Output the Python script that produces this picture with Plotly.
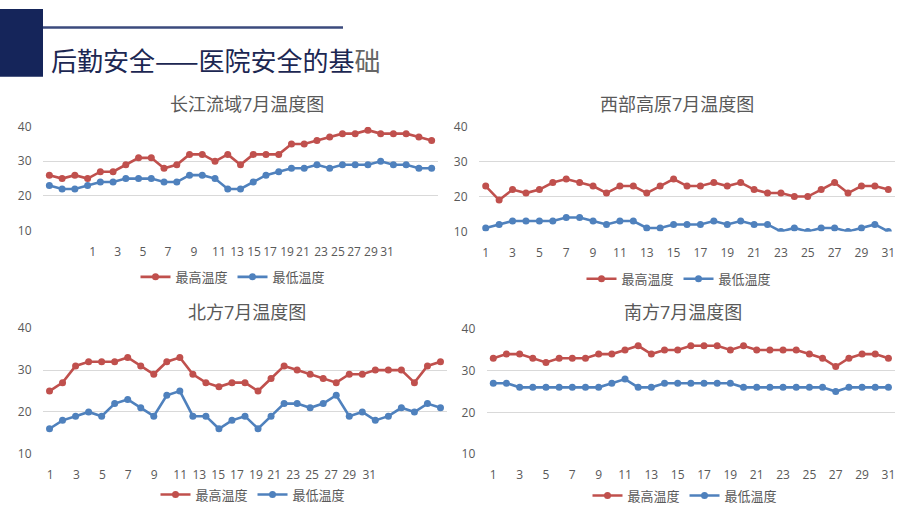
import plotly.graph_objects as go

# ---------------- data ----------------
days = list(range(1, 32))

cj_max = [26, 25, 26, 25, 27, 27, 29, 31, 31, 28, 29, 32, 32, 30, 32, 29, 32, 32, 32, 35, 35, 36, 37, 38, 38, 39, 38, 38, 38, 37, 36]
cj_min = [23, 22, 22, 23, 24, 24, 25, 25, 25, 24, 24, 26, 26, 25, 22, 22, 24, 26, 27, 28, 28, 29, 28, 29, 29, 29, 30, 29, 29, 28, 28]

xb_max = [23, 19, 22, 21, 22, 24, 25, 24, 23, 21, 23, 23, 21, 23, 25, 23, 23, 24, 23, 24, 22, 21, 21, 20, 20, 22, 24, 21, 23, 23, 22]
xb_min = [11, 12, 13, 13, 13, 13, 14, 14, 13, 12, 13, 13, 11, 11, 12, 12, 12, 13, 12, 13, 12, 12, 10, 11, 10, 11, 11, 10, 11, 12, 10]

bf_max = [25, 27, 31, 32, 32, 32, 33, 31, 29, 32, 33, 29, 27, 26, 27, 27, 25, 28, 31, 30, 29, 28, 27, 29, 29, 30, 30, 30, 27, 31, 32]
bf_min = [16, 18, 19, 20, 19, 22, 23, 21, 19, 24, 25, 19, 19, 16, 18, 19, 16, 19, 22, 22, 21, 22, 24, 19, 20, 18, 19, 21, 20, 22, 21]

nf_max = [33, 34, 34, 33, 32, 33, 33, 33, 34, 34, 35, 36, 34, 35, 35, 36, 36, 36, 35, 36, 35, 35, 35, 35, 34, 33, 31, 33, 34, 34, 33]
nf_min = [27, 27, 26, 26, 26, 26, 26, 26, 26, 27, 28, 26, 26, 27, 27, 27, 27, 27, 27, 26, 26, 26, 26, 26, 26, 26, 25, 26, 26, 26, 26]

tick_text = ["1", "3", "5", "7", "9", "11", "13", "15", "17", "19", "21", "23", "25", "27", "29", "31"]
y_ticks = [10, 20, 30, 40]

titles = ["长江流域7月温度图", "西部高原7月温度图", "北方7月温度图", "南方7月温度图"]
series_names = ["最高温度", "最低温度"]
header_title = "后勤安全——医院安全的基础"

# ---------------- layout constants ----------------
# tick label placement as rendered in the reference (day units)
cj_tick_pos = [4.40, 6.36, 8.35, 10.31, 12.35, 14.31, 15.73, 17.06, 18.32, 19.65, 20.9, 22.32, 23.65, 24.91, 26.24, 27.5]
bf_tick_pos = [1.05, 3.07, 5.07, 7.04, 9.04, 11.03, 12.49, 13.94, 15.38, 16.84, 18.24, 19.7, 21.14, 22.6, 24.0, 25.54]
reg_tick_pos = list(range(1, 32, 2))

W, H = 920, 518
RED = "#c0504d"
BLUE = "#4f81bd"
GRAY = "#595959"
GRID = "#d9d9d9"
FONT = "Open Sans, Noto Sans CJK SC, sans-serif"

def px_x(p):
    return p / W

def px_y(p):
    return 1 - p / H

panels = [
    dict(xd=[43, 438], yd=[121.7, 229], maxv=cj_max, minv=cj_min, ticks=cj_tick_pos,
         title_xy=(247, 98), leg_xy=(233, 277)),
    dict(xd=[479, 895], yd=[121.7, 230], maxv=xb_max, minv=xb_min, ticks=reg_tick_pos,
         title_xy=(677, 98), leg_xy=(679, 279)),
    dict(xd=[43, 447], yd=[330, 460], maxv=bf_max, minv=bf_min, ticks=bf_tick_pos,
         title_xy=(247, 313), leg_xy=(253, 502)),
    dict(xd=[486.7, 895], yd=[331, 460], maxv=nf_max, minv=nf_min, ticks=reg_tick_pos,
         title_xy=(683, 313), leg_xy=(685, 503)),
]

fig = go.Figure()
layout = dict(
    width=W, height=H,
    margin=dict(l=0, r=0, t=0, b=0),
    paper_bgcolor="white", plot_bgcolor="white",
    font=dict(family=FONT, color=GRAY),
    annotations=[], shapes=[],
)

for i, p in enumerate(panels):
    k = "" if i == 0 else str(i + 1)
    leg = "legend" if i == 0 else "legend" + str(i + 1)
    for name, vals, col in [(series_names[0], p["maxv"], RED), (series_names[1], p["minv"], BLUE)]:
        fig.add_trace(go.Scatter(
            x=days, y=vals, name=name, mode="lines+markers",
            line=dict(color=col, width=2.6),
            marker=dict(color=col, size=7),
            xaxis="x" + k, yaxis="y" + k, legend=leg,
            hoverinfo="x+y+name",
        ))
    layout["xaxis" + k] = dict(
        domain=[px_x(p["xd"][0]), px_x(p["xd"][1])],
        anchor="y" + k, range=[0.5, 31.5],
        tickmode="array", tickvals=p["ticks"], ticktext=tick_text,
        showgrid=False, zeroline=False, showline=False,
        ticks="outside", ticklen=10, tickcolor="rgba(0,0,0,0)",
        tickfont=dict(size=12, color=GRAY, family=FONT),
        fixedrange=True,
    )
    layout["yaxis" + k] = dict(
        domain=[px_y(p["yd"][1]), px_y(p["yd"][0])],
        anchor="x" + k, range=[10, 40],
        tickmode="array", tickvals=y_ticks,
        showgrid=True, gridcolor=GRID, gridwidth=1,
        zeroline=False, showline=False,
        ticks="outside", ticklen=8, tickcolor="rgba(0,0,0,0)",
        tickfont=dict(size=12, color=GRAY, family=FONT),
        fixedrange=True,
    )
    layout[leg] = dict(
        orientation="h", x=px_x(p["leg_xy"][0]), y=px_y(p["leg_xy"][1]),
        xanchor="center", yanchor="middle",
        font=dict(size=13, color=GRAY, family=FONT),
        bgcolor="rgba(0,0,0,0)", itemwidth=30, tracegroupgap=0,
    )
    layout["annotations"].append(dict(
        text=titles[i], x=px_x(p["title_xy"][0]), y=px_y(p["title_xy"][1]),
        xref="paper", yref="paper", xanchor="center", yanchor="middle",
        showarrow=False, font=dict(size=18, color=GRAY, family=FONT),
    ))

# header
layout["shapes"].append(dict(type="rect", xref="paper", yref="paper",
                             x0=0, x1=px_x(43), y0=px_y(70), y1=1,
                             fillcolor="#15255a", line=dict(width=0), layer="above"))
layout["shapes"].append(dict(type="line", xref="paper", yref="paper",
                             x0=px_x(43), x1=px_x(343), y0=px_y(19), y1=px_y(19),
                             line=dict(color="#3b4a7d", width=2.5)))
layout["annotations"].append(dict(
    text=header_title[:-1] + '<span style="color:#666666">' + header_title[-1] + "</span>",
    x=px_x(49), y=px_y(52), xref="paper", yref="paper",
    xanchor="left", yanchor="middle", showarrow=False,
    font=dict(size=26, color="#1c2752", family="Noto Sans CJK SC, sans-serif"),
))

fig.update_layout(**layout)
post = ("var gd=document.getElementById('{plot_id}');"
        "gd.style.position='absolute';gd.style.top='0px';gd.style.left='0px';"
        "document.documentElement.style.margin='0';document.documentElement.style.padding='0';"
        "document.body.style.margin='0';document.body.style.padding='0';"
        "document.body.style.width='920px';document.body.style.height='518px';"
        "document.body.style.overflow='hidden';"
        "document.documentElement.style.overflow='hidden';")
fig.write_html("out.html", post_script=post, config={"displayModeBar": False})
